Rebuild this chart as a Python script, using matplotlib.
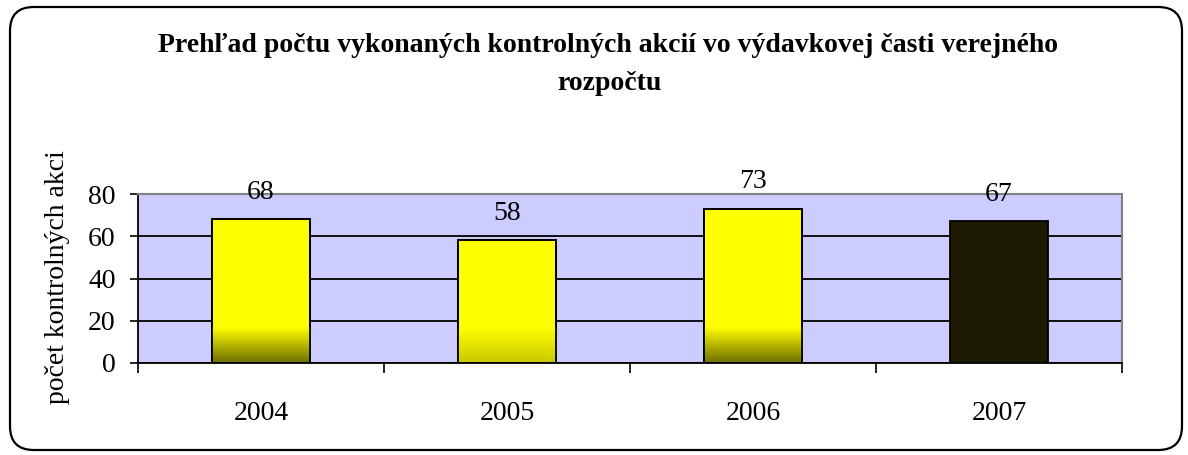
"""
prehlad poctu vykonanych kontrolnych akcii - stlpcovy graf
out: out.png
"""

import numpy as np
import matplotlib.pyplot as plt
from matplotlib.colors import LinearSegmentedColormap
from matplotlib.patches import FancyBboxPatch

years = ["2004", "2005", "2006", "2007"]
values = [68, 58, 73, 67]
barColors = ["#ffff00", "#ffff00", "#ffff00", "#1c1a00"]
bottomColors = ["#6e6e00", "#c8c800", "#6e6e00", "#1c1a00"]

titleLines = ["Prehľad počtu vykonaných kontrolných akcií vo výdavkovej časti verejného",
              "rozpočtu"]
ylabel = "počet kontrolných akci"

plt.rcParams["font.family"] = ["Liberation Serif", "DejaVu Serif"]

fig = plt.figure(figsize=(11.88, 4.55), dpi=100)
ax = fig.add_axes([138 / 1188, 1 - 363 / 455, (1122 - 138) / 1188, (363 - 194) / 455])

# rounded frame round the whole chart
frame = FancyBboxPatch((10 / 1188, 5 / 455), 1172 / 1188, 443 / 455,
                       boxstyle="round,pad=0,rounding_size=0.02",
                       transform=fig.transFigure, fill=False, lw=1.6,
                       edgecolor="black", mutation_aspect=1188 / 455)
fig.patches.append(frame)

x = np.arange(len(years))
width = 0.4
ax.set_facecolor("#ccccff")
ax.yaxis.grid(True, color="black", lw=1.3)
ax.set_axisbelow(True)

bars = ax.bar(x, values, width=width, color=barColors, edgecolor="black", lw=1.3, zorder=2)

# gradient at the bottom of the bars
for b, top, bot in zip(bars, barColors, bottomColors):
    if top == bot:
        continue
    cmap = LinearSegmentedColormap.from_list("g", [bot, top])
    grad = np.linspace(0, 1, 100).reshape(-1, 1)
    im = ax.imshow(grad, cmap=cmap, aspect="auto", origin="lower", zorder=2.5,
                   extent=[b.get_x(), b.get_x() + b.get_width(), 0, 17])
    im.set_clip_path(b)
    ax.bar(b.get_x() + b.get_width() / 2, b.get_height(), width=width, fill=False,
           edgecolor="black", lw=1.3, zorder=3)

ax.set_xlim(-0.5, len(years) - 0.5)
ax.set_ylim(0, 80)
ax.set_yticks([0, 20, 40, 60, 80])

for xi, v in zip(x, values):
    ax.text(xi, v + 12.8, str(v), ha="center", va="center", fontsize=20)

ax.set_xticks(x)
ax.set_xticklabels(years, fontsize=20)
ax.set_xticks(np.arange(-0.5, len(years)), minor=True)
ax.tick_params(axis="x", which="major", length=0, pad=27)
ax.tick_params(axis="x", which="minor", length=7, width=1.2, direction="out")
ax.tick_params(axis="y", labelsize=20, length=6, width=1.2, pad=10)

ax.spines["left"].set_color("black")
ax.spines["bottom"].set_color("black")
ax.spines["left"].set_linewidth(1.3)
ax.spines["bottom"].set_linewidth(1.3)
ax.spines["top"].set_color("#808080")
ax.spines["right"].set_color("#808080")
ax.spines["top"].set_linewidth(1.5)
ax.spines["right"].set_linewidth(1.5)

fig.text(58 / 1188, 1 - 277 / 455, ylabel, ha="center", va="center",
         rotation=90, fontsize=20)

fig.text(608 / 1188, 1 - 45 / 455, titleLines[0], ha="center", va="center",
         fontsize=20, fontweight="bold")
fig.text(609 / 1188, 1 - 84 / 455, titleLines[1], ha="center", va="center",
         fontsize=20, fontweight="bold")

plt.savefig("out.png", dpi=100)
